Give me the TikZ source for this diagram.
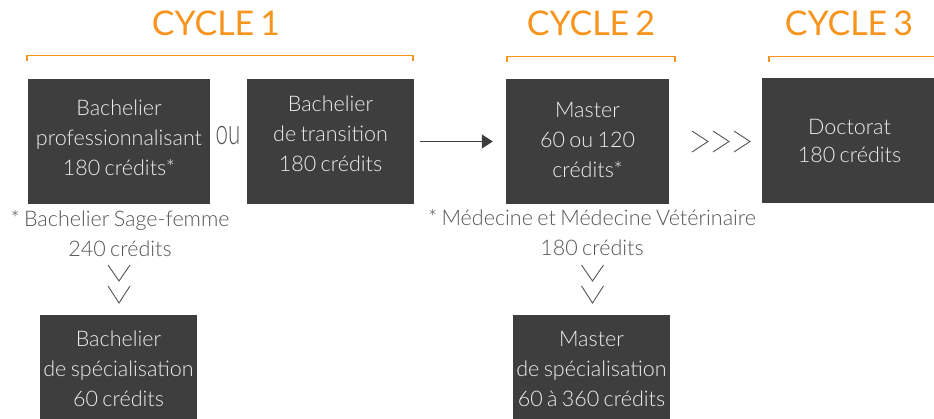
\documentclass[tikz,border=0pt]{standalone}
\usepackage{fontspec}
\setmainfont{Lato}[UprightFont=* Light, WordSpace=0.75]
\newfontfamily\titlefont{Lato}[WordSpace=0.7]
\usetikzlibrary{arrows.meta,calc}
\definecolor{orng}{HTML}{F7941D}
\definecolor{boxc}{HTML}{3E3E3E}
\definecolor{boxtxt}{HTML}{EEEEEE}
\definecolor{grayt}{HTML}{555555}
\tikzset{
  cycletitle/.style={anchor=base, text=orng, font=\titlefont\fontsize{34}{40}\selectfont, inner sep=0pt},
  bracket/.style={draw=orng, line width=1.1pt},
  darkbox/.style={fill=boxc, draw=none, inner sep=0pt},
  boxlabel/.style={text=boxtxt, align=center, font=\fontsize{21.5}{30}\selectfont, inner sep=0pt},
  note/.style={text=grayt, align=center, font=\fontsize{21.5}{30}\selectfont, inner sep=0pt},
  chev/.style={draw=grayt, line width=0.9pt},
}
\begin{document}
\begin{tikzpicture}[x=1pt,y=-1pt]
\useasboundingbox (0,0) rectangle (934,419);
% titles
\node[cycletitle] (c1) at (216,36) {CYCLE 1};
\node[cycletitle] (c2) at (591,36) {CYCLE 2};
\node[cycletitle] (c3) at (849,36) {CYCLE 3};
% brackets
\draw[bracket] (27,61) -- (27,55.5) -- (413,55.5) -- (413,61);
\draw[bracket] (507,62) -- (507,56.5) -- (675,56.5) -- (675,62);
\draw[bracket] (769,62) -- (769,56.5) -- (940,56.5);
% top boxes
\node[darkbox, minimum width=182pt, minimum height=125pt] (b1) at (119,141.5) {};
\node[darkbox, minimum width=167pt, minimum height=125pt] (b2) at (330.5,141.5) {};
\node[darkbox, minimum width=163pt, minimum height=125pt] (m) at (587.5,141.5) {};
\node[darkbox, minimum width=175pt, minimum height=125pt] (d) at (849.5,141) {};
\node[boxlabel] (t1) at ($(b1)+(0,-4)$) {Bachelier\\professionnalisant\\180 crédits*};
\node[boxlabel] (t2) at ($(b2)+(0,-8)$) {Bachelier\\de transition\\180 crédits};
\node[boxlabel] (tm) at ($(m)+(0,-2)$) {Master\\60 ou 120\\crédits*};
\node[boxlabel, font=\fontsize{21.5}{28}\selectfont] (td) at ($(d)+(0,0)$) {Doctorat\\180 crédits};
% ou
\node[text=grayt, inner sep=0pt] (ou) at (228,136) {\scalebox{0.62}[1]{\fontsize{36}{36}\selectfont ou}};
% arrow
\draw[draw=boxc, line width=1.2pt, shorten <=6pt, shorten >=13pt, -{Triangle[length=11pt,width=14pt]}] (b2.east) -- (m.west);
% >>>
\foreach \xx in {692,713,734}{
  \draw[chev] (\xx,131) -- (\xx+16,141.5) -- (\xx,152);
}
% notes
\node[note] (n1) at (120,234) {* Bachelier Sage-femme\\240 crédits};
\node[note] (n2) at (592,232.5) {* Médecine et Médecine Vétérinaire\\180 crédits};
% chevrons down
\foreach \cx in {119,592.5}{
  \draw[chev] (\cx-11,265) -- (\cx,281) -- (\cx+11,265);
  \draw[chev] (\cx-11,286) -- (\cx,303) -- (\cx+11,286);
}
% bottom boxes
\node[darkbox, minimum width=157pt, minimum height=106pt] (bs) at (118.5,368) {};
\node[darkbox, minimum width=157pt, minimum height=106pt] (ms) at (591.5,368) {};
\node[boxlabel] (tbs) at ($(bs)+(0,1)$) {Bachelier\\de spécialisation\\60 crédits};
\node[boxlabel] (tms) at ($(ms)+(0,1)$) {Master\\de spécialisation\\60 à 360 crédits};
\end{tikzpicture}
\end{document}
